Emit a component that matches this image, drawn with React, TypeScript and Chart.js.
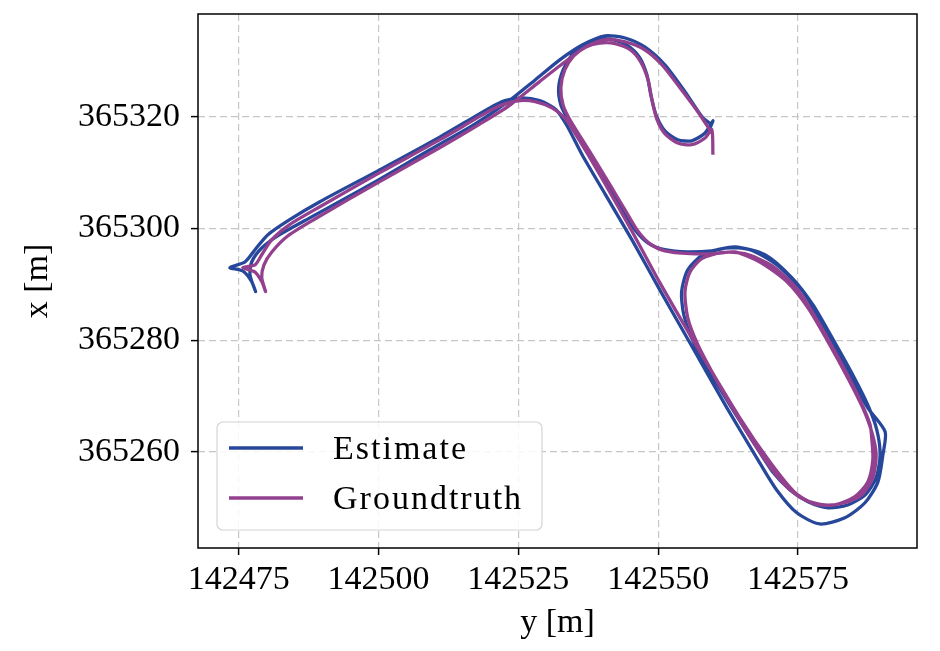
import React, { useEffect, useRef } from "react";
import { Chart, registerables } from "chart.js";

Chart.register(...registerables);

// Horizontal axis: "y [m]" (easting); vertical axis: "x [m]" (northing)
const estimateE = [
  142558.9, 142559.8, 142558.4, 142556.0, 142553.5, 142551.2, 142549.6, 142548.7, 142548.0, 142546.7,
  142544.6, 142541.9, 142539.2, 142536.7, 142534.6, 142533.0, 142532.2, 142532.6, 142533.9, 142537.4,
  142541.0, 142543.7, 142545.8, 142548.2, 142551.2, 142555.3, 142559.6, 142563.7, 142569.1, 142573.9,
  142577.7, 142581.3, 142584.8, 142587.5, 142589.1, 142589.7, 142589.0, 142587.0, 142583.9, 142580.4,
  142576.8, 142573.6, 142570.5, 142567.3, 142563.4, 142559.6, 142556.4, 142554.6, 142554.2, 142555.3,
  142558.0, 142561.9, 142566.4, 142571.2, 142575.9, 142579.8, 142583.9, 142587.5, 142590.6, 142590.2,
  142589.3, 142587.0, 142583.4, 142578.9, 142574.8, 142571.2, 142568.2, 142562.3, 142555.7, 142550.3,
  142545.3, 142540.5, 142536.4, 142533.7, 142531.7, 142528.8, 142525.6, 142522.6, 142519.9, 142511.0,
  142500.2, 142489.5, 142484.1, 142480.2, 142477.9, 142476.1, 142473.4, 142475.7, 142477.3, 142478.0,
  142477.0, 142477.3, 142479.1, 142482.3, 142487.7, 142498.4, 142509.2, 142517.2, 142522.6, 142528.0,
  142532.4, 142536.5, 142540.5, 142544.1, 142547.6, 142551.2, 142554.8, 142558.0, 142559.6,
];
const estimateN = [
  365317.1, 365319.3, 365317.1, 365315.7, 365315.9, 365317.5, 365320.4, 365323.9, 365327.5, 365330.6,
  365332.7, 365333.8, 365333.8, 365332.9, 365331.1, 365328.4, 365325.2, 365322.1, 365319.5, 365313.7,
  365307.8, 365303.3, 365299.8, 365297.4, 365296.2, 365295.8, 365296.0, 365296.7, 365295.3, 365291.2,
  365286.3, 365280.1, 365273.8, 365268.4, 365264.0, 365259.5, 365255.4, 365252.3, 365250.5, 365250.0,
  365251.1, 365253.2, 365256.4, 365261.3, 365267.5, 365273.8, 365279.5, 365284.5, 365288.7, 365292.6,
  365295.3, 365296.5, 365296.2, 365293.5, 365288.7, 365281.9, 365274.3, 365267.9, 365263.6, 365259.5,
  365254.6, 365250.9, 365248.2, 365247.1, 365249.1, 365253.2, 365258.0, 365267.9, 365279.5, 365289.0,
  365298.0, 365306.2, 365313.2, 365318.4, 365321.3, 365322.9, 365323.4, 365322.9, 365321.6, 365316.4,
  365310.5, 365304.8, 365301.6, 365298.9, 365296.2, 365294.0, 365293.0, 365292.4, 365290.5, 365288.7,
  365291.7, 365294.0, 365296.5, 365298.9, 365301.9, 365307.8, 365314.1, 365318.7, 365322.3, 365326.6,
  365330.2, 365332.9, 365334.5, 365334.1, 365332.5, 365329.3, 365324.5, 365319.8, 365318.6,
];
const groundtruthE = [
  142559.8, 142559.6, 142558.4, 142556.0, 142553.5, 142551.2, 142549.8, 142548.9, 142548.2, 142546.9,
  142545.0, 142542.3, 142539.6, 142537.1, 142534.9, 142533.3, 142532.6, 142533.0, 142534.2, 142537.8,
  142541.4, 142544.1, 142546.2, 142548.5, 142551.2, 142555.7, 142560.2, 142563.7, 142568.2, 142573.0,
  142576.8, 142580.4, 142583.9, 142586.6, 142588.2, 142589.0, 142588.4, 142586.4, 142583.4, 142579.8,
  142576.3, 142573.2, 142570.4, 142567.3, 142563.7, 142560.2, 142557.1, 142555.3, 142554.8, 142555.7,
  142557.8, 142561.4, 142565.5, 142570.4, 142575.0, 142578.9, 142582.9, 142586.1, 142587.9, 142588.2,
  142588.4, 142587.5, 142585.2, 142581.6, 142578.0, 142574.5, 142570.0, 142564.6, 142557.5, 142550.3,
  142545.0, 142539.6, 142535.1, 142533.3, 142531.0, 142528.0, 142525.3, 142522.6, 142519.9, 142511.0,
  142500.2, 142489.5, 142484.1, 142480.9, 142479.1, 142477.9, 142475.7, 142477.9, 142479.1, 142479.8,
  142479.1, 142479.5, 142480.9, 142483.8, 142488.6, 142500.2, 142511.0, 142518.1, 142523.5, 142528.8,
  142533.3, 142536.9, 142540.5, 142544.1, 142547.6, 142550.7, 142553.9, 142557.1, 142559.6,
];
const groundtruthN = [
  365313.2, 365317.7, 365316.2, 365315.0, 365315.3, 365317.0, 365319.5, 365323.0, 365326.6, 365329.8,
  365332.0, 365333.1, 365333.2, 365332.5, 365330.9, 365328.4, 365325.2, 365322.1, 365319.5, 365313.7,
  365307.8, 365303.3, 365299.8, 365297.3, 365296.0, 365295.5, 365295.5, 365295.8, 365294.0, 365290.5,
  365285.8, 365279.7, 365273.3, 365267.9, 365263.6, 365259.5, 365255.4, 365252.3, 365250.9, 365250.5,
  365251.4, 365253.6, 365256.8, 365261.3, 365267.2, 365273.3, 365279.2, 365284.0, 365288.7, 365292.2,
  365294.6, 365295.7, 365295.5, 365293.3, 365289.0, 365282.8, 365275.6, 365269.3, 365264.9, 365262.5,
  365258.6, 365254.6, 365252.0, 365250.5, 365250.7, 365252.7, 365258.2, 365266.1, 365277.9, 365290.3,
  365300.1, 365309.6, 365317.1, 365319.8, 365321.6, 365322.7, 365322.9, 365322.3, 365321.1, 365315.9,
  365310.0, 365303.9, 365300.7, 365298.0, 365295.3, 365293.5, 365293.0, 365292.2, 365290.5, 365288.7,
  365291.2, 365293.5, 365295.8, 365298.7, 365301.7, 365308.4, 365314.5, 365318.7, 365322.1, 365326.3,
  365329.8, 365332.4, 365333.8, 365333.4, 365332.0, 365329.3, 365325.2, 365320.9, 365317.1,
];

const eastTicks = [142475, 142500, 142525, 142550, 142575];
const northTicks = [365260, 365280, 365300, 365320];
const eastRange = [142467.7, 142596.3];
const northRange = [365242.8, 365338.4];
const seriesLabels = ["Estimate", "Groundtruth"];
const xAxisTitle = "y [m]";
const yAxisTitle = "x [m]";

const BLUE = "#27479a";
const PURPLE = "#93418f";
const FONT = "'Liberation Serif', 'Times New Roman', serif";

export default function App() {
  const canvasRef = useRef<HTMLCanvasElement>(null);

  useEffect(() => {
    document.body.style.margin = "0";
    const canvas = canvasRef.current;
    if (!canvas) return;

    const toPts = (xs: number[], ys: number[]) => xs.map((v, i) => ({ x: v, y: ys[i] }));

    const framePlugin = {
      id: "frame",
      afterDatasetsDraw(chart: any) {
        const { ctx, chartArea: a } = chart;
        ctx.save();
        ctx.strokeStyle = "#000";
        ctx.lineWidth = 1.5;
        ctx.strokeRect(a.left, a.top, a.right - a.left, a.bottom - a.top);
        ctx.restore();
      },
    };

    const legendPlugin = {
      id: "innerLegend",
      afterDraw(chart: any) {
        const { ctx, chartArea: a } = chart;
        const bx = a.left + 19;
        const by = a.bottom - 126;
        const bw = 325;
        const bh = 108;
        ctx.save();
        ctx.beginPath();
        ctx.roundRect(bx, by, bw, bh, 6);
        ctx.fillStyle = "rgba(255,255,255,0.85)";
        ctx.fill();
        ctx.strokeStyle = "#d4d4d4";
        ctx.lineWidth = 1.2;
        ctx.stroke();
        const colors = [BLUE, PURPLE];
        seriesLabels.forEach((label, i) => {
          const cy = by + 26 + i * 50;
          ctx.beginPath();
          ctx.moveTo(bx + 12, cy);
          ctx.lineTo(bx + 86, cy);
          ctx.strokeStyle = colors[i];
          ctx.lineWidth = 3.3;
          ctx.stroke();
          ctx.fillStyle = "#000";
          ctx.font = `34px ${FONT}`;
          (ctx as any).letterSpacing = "2px";
          ctx.textAlign = "left";
          ctx.textBaseline = "middle";
          ctx.fillText(label, bx + 116, cy + 2);
          (ctx as any).letterSpacing = "0px";
        });
        ctx.restore();
      },
    };

    const tickFont = { family: FONT, size: 34 };

    const chart = new Chart(canvas, {
      type: "scatter",
      data: {
        datasets: [
          {
            label: seriesLabels[0],
            data: toPts(estimateE, estimateN),
            showLine: true,
            borderColor: BLUE,
            backgroundColor: BLUE,
            borderWidth: 3.3,
            pointRadius: 0,
            tension: 0.25,
            order: 1,
          },
          {
            label: seriesLabels[1],
            data: toPts(groundtruthE, groundtruthN),
            showLine: true,
            borderColor: PURPLE,
            backgroundColor: PURPLE,
            borderWidth: 3.3,
            pointRadius: 0,
            tension: 0.25,
            order: 0,
          },
        ],
      },
      options: {
        animation: false,
        responsive: true,
        maintainAspectRatio: false,
        layout: { padding: { top: 14, right: 23, left: 0, bottom: 0 } },
        plugins: { legend: { display: false }, tooltip: { enabled: false } },
        scales: {
          x: {
            type: "linear",
            min: eastRange[0],
            max: eastRange[1],
            afterFit: (s: any) => {
              s.height = 103;
              s.paddingLeft = 0;
              s.paddingRight = 0;
            },
            afterBuildTicks: (s: any) => {
              s.ticks = eastTicks.map((v) => ({ value: v }));
            },
            ticks: {
              callback: (v: any) => String(v),
              font: tickFont,
              color: "#000",
              padding: 5,
              maxRotation: 0,
              autoSkip: false,
            },
            grid: {
              color: "#c6c6c6",
              lineWidth: 1.2,
              tickColor: "#000",
              tickLength: 7,
              tickWidth: 1.5,
              tickBorderDash: [],
            },
            border: { display: false, dash: [7, 4] },
            title: {
              display: true,
              text: xAxisTitle,
              font: tickFont,
              color: "#000",
              padding: { top: 0, bottom: 8 },
            },
          },
          y: {
            type: "linear",
            min: northRange[0],
            max: northRange[1],
            afterFit: (s: any) => {
              s.width = 198;
              s.paddingTop = 0;
              s.paddingBottom = 0;
            },
            afterBuildTicks: (s: any) => {
              s.ticks = northTicks.map((v) => ({ value: v }));
            },
            ticks: {
              callback: (v: any) => String(v),
              font: tickFont,
              color: "#000",
              padding: 11,
              autoSkip: false,
            },
            grid: {
              color: "#c6c6c6",
              lineWidth: 1.2,
              tickColor: "#000",
              tickLength: 7,
              tickWidth: 1.5,
              tickBorderDash: [],
            },
            border: { display: false, dash: [7, 4] },
            title: {
              display: true,
              text: yAxisTitle,
              font: tickFont,
              color: "#000",
              padding: { top: 18, bottom: 0 },
            },
          },
        },
      },
      plugins: [framePlugin, legendPlugin],
    } as any);

    return () => chart.destroy();
  }, []);

  return (
    <div style={{ position: "relative", width: 940, height: 651 }}>
      <canvas ref={canvasRef} />
    </div>
  );
}
